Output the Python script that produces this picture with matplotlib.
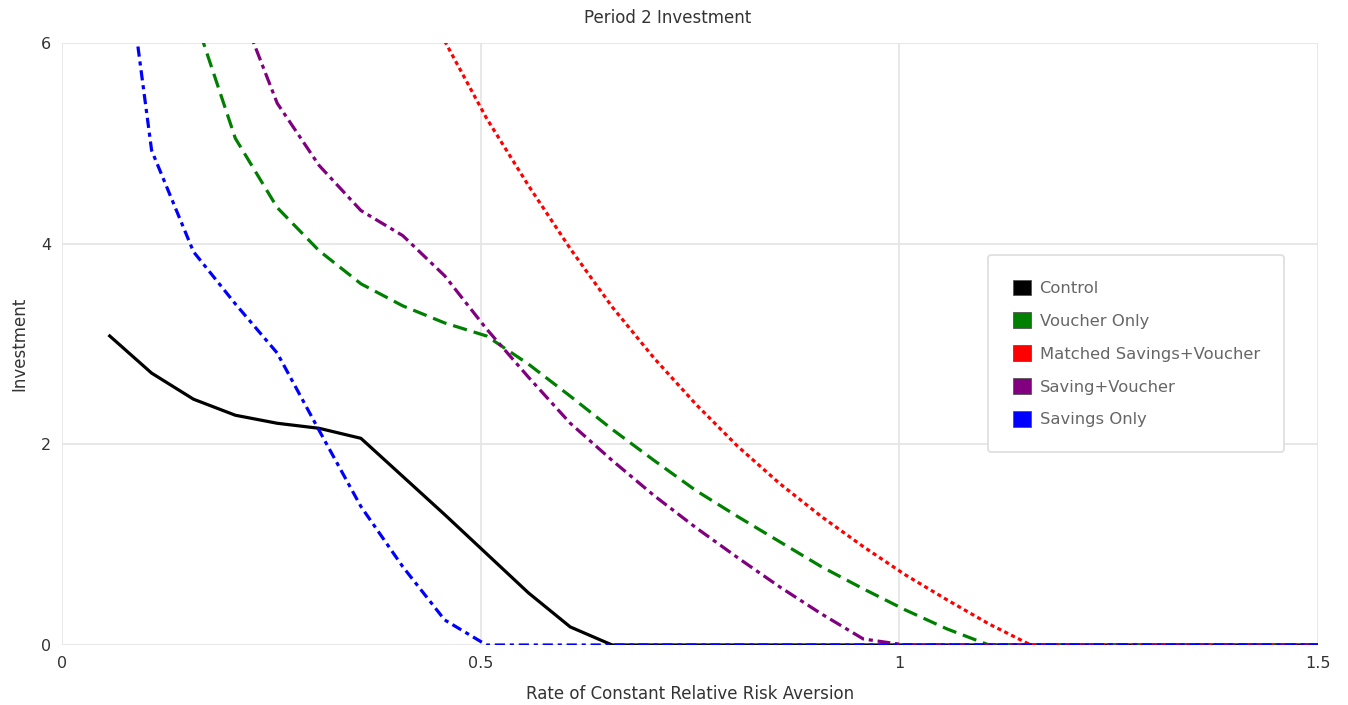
import matplotlib
matplotlib.use("Agg")
import matplotlib.pyplot as plt
from matplotlib.patches import Patch

# risk aversion grid
rra = [0.057, 0.107, 0.157, 0.207, 0.257, 0.307, 0.357, 0.407, 0.457, 0.507,
       0.557, 0.607, 0.657, 0.707, 0.757, 0.807, 0.857, 0.907, 0.957, 1.007,
       1.057, 1.107, 1.157, 1.207, 1.257, 1.307, 1.357, 1.407, 1.457, 1.507]

control = [3.08, 2.71, 2.45, 2.29, 2.21, 2.16, 2.06, 1.68, 1.30, 0.91,
           0.52, 0.18, 0.0, 0.0, 0.0, 0.0, 0.0, 0.0, 0.0, 0.0,
           0.0, 0.0, 0.0, 0.0, 0.0, 0.0, 0.0, 0.0, 0.0, 0.0]

voucher_only = [None, None, 6.3, 5.05, 4.36, 3.93, 3.60, 3.38, 3.21, 3.08,
                2.80, 2.48, 2.15, 1.84, 1.54, 1.28, 1.03, 0.78, 0.56, 0.35,
                0.16, 0.0, 0.0, 0.0, 0.0, 0.0, 0.0, 0.0, 0.0, 0.0]

matched_sv = [None, None, None, None, None, None, None, None, 6.02, 5.25,
              4.58, 3.95, 3.37, 2.86, 2.40, 1.98, 1.61, 1.28, 0.98, 0.70,
              0.45, 0.21, 0.0, 0.0, 0.0, 0.0, 0.0, 0.0, 0.0, 0.0]

saving_voucher = [None, None, None, 6.47, 5.40, 4.78, 4.33, 4.08, 3.68, 3.15,
                  2.67, 2.21, 1.84, 1.49, 1.17, 0.87, 0.58, 0.31, 0.06, 0.0,
                  0.0, 0.0, 0.0, 0.0, 0.0, 0.0, 0.0, 0.0, 0.0, 0.0]

savings_only = [8.1, 4.93, 3.92, 3.40, 2.91, 2.14, 1.38, 0.78, 0.25, 0.0,
                0.0, 0.0, 0.0, 0.0, 0.0, 0.0, 0.0, 0.0, 0.0, 0.0,
                0.0, 0.0, 0.0, 0.0, 0.0, 0.0, 0.0, 0.0, 0.0, 0.0]

names = ["Control", "Voucher Only", "Matched Savings+Voucher",
         "Saving+Voucher", "Savings Only"]
colors = ["#000000", "#008000", "#ff0000", "#800080", "#0000ff"]


def pts(ys):
    xx = [x for x, y in zip(rra, ys) if y is not None]
    yy = [y for y in ys if y is not None]
    return xx, yy


plt.rcParams['font.family'] = ['DejaVu Sans']
fig = plt.figure(figsize=(13.48, 7.05), dpi=100)
ax = fig.add_axes([62 / 1348, 1 - 645 / 705, 1256 / 1348, 602 / 705])

lw = 2.3
x, y = pts(control)
ax.plot(x, y, color=colors[0], lw=lw, solid_joinstyle='round')
x, y = pts(voucher_only)
ax.plot(x, y, color=colors[1], lw=lw, dashes=(4.5, 2.2))
x, y = pts(matched_sv)
ax.plot(x, y, color=colors[2], lw=lw, dashes=(1.3, 1.1))
x, y = pts(saving_voucher)
ax.plot(x, y, color=colors[3], lw=lw, dashes=(4, 1.5, 1.3, 1.5))
x, y = pts(savings_only)
ax.plot(x, y, color=colors[4], lw=lw, dashes=(3.2, 1.5, 1.3, 1.5))

ax.set_xlim(0, 1.5)
ax.set_ylim(0, 6)
ax.set_xticks([0, 0.5, 1, 1.5])
ax.set_xticklabels(["0", "0.5", "1", "1.5"])
ax.set_yticks([0, 2, 4, 6])
ax.grid(True, color='#e4e4e4', lw=1.2)
ax.set_axisbelow(True)
for s in ax.spines.values():
    s.set_visible(False)
ax.tick_params(length=0, labelsize=11.5, colors='#333333', pad=8)

fig.text(668 / 1348, 1 - 18 / 705, "Period 2 Investment", fontsize=12,
         color='#333333', ha='center', va='center')
ax.set_xlabel("Rate of Constant Relative Risk Aversion", fontsize=12,
              color='#333333', labelpad=10)
ax.set_ylabel("Investment", fontsize=12, color='#333333', labelpad=9)

handles = [Patch(facecolor=c, edgecolor='#555555', lw=0.6) for c in colors]
leg = fig.legend(handles, names, loc='upper left',
                 bbox_to_anchor=(988 / 1348, 1 - 255 / 705),
                 bbox_transform=fig.transFigure,
                 fontsize=11.8, labelcolor='#666666',
                 handlelength=1.1, handleheight=1.1, handletextpad=0.55,
                 labelspacing=1.0, borderpad=1.5, borderaxespad=0,
                 frameon=True, fancybox=True, edgecolor='#dddddd',
                 framealpha=1)
leg.get_frame().set_linewidth(1.2)

fig.savefig("out.png", dpi=100, facecolor='white')
